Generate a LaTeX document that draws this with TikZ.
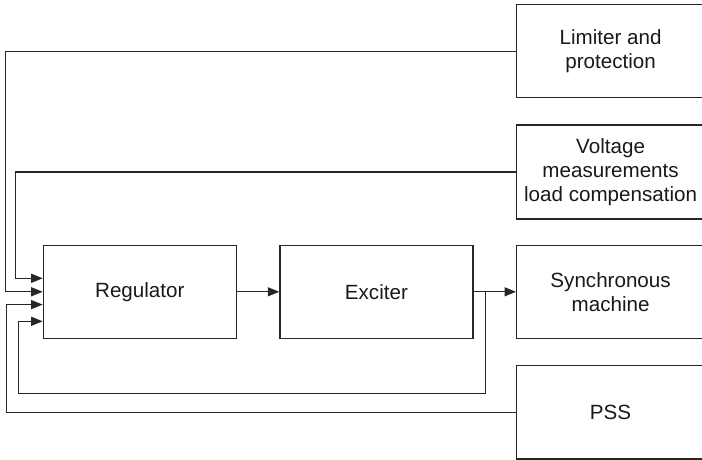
\documentclass[tikz,border=0pt]{standalone}
\usepackage{fontspec}
\setmainfont{Liberation Sans}
\usetikzlibrary{arrows.meta}
\tikzset{
  box/.style={draw=black!85, line width=1.2pt, rectangle, align=center, anchor=north west,
    inner sep=0pt, font=\fontsize{20.6}{24.2}\selectfont, text=black!90},
  arr/.style={draw=black!85, line width=1.2pt, -{Triangle[length=11.5pt,width=9pt]}},
  ln/.style={draw=black!85, line width=1.2pt}
}
\begin{document}
\begin{tikzpicture}[x=1pt,y=-1pt]
\useasboundingbox (0,0) rectangle (702,459);
\clip (0,0) rectangle (702,459);
\node[box, minimum width=193pt, minimum height=93pt] (reg) at (42.7,244.7) {Regulator};
\node[box, minimum width=193pt, minimum height=93pt] (exc) at (279.3,244.7) {Exciter};
\node[box, minimum width=188pt, minimum height=93pt] (lim) at (516,4) {Limiter and\\protection};
\node[box, minimum width=188pt, minimum height=94pt] (vol) at (516,124.3) {Voltage\\measurements\\load compensation};
\node[box, minimum width=188pt, minimum height=93pt] (syn) at (516,244.7) {Synchronous\\machine};
\node[box, minimum width=188pt, minimum height=93.3pt] (pss) at (516,365) {PSS};
\coordinate (br) at (485.7,291.2);
\coordinate (fb) at (485.7,393.3);
\draw[arr] (reg.east) -- (exc.west);
\draw[arr] (exc.east) -- (syn.west);
\draw[arr] (lim.west) -| ([xshift=-37.2pt]reg.west) -- (reg.west);
\draw[arr] (vol.west) -| ([xshift=-27.4pt,yshift=13.5pt]reg.west) -- ([yshift=13.5pt]reg.west);
\draw[arr] (pss.west) -| ([xshift=-36.2pt,yshift=-12.8pt]reg.west) -- ([yshift=-12.8pt]reg.west);
\draw[arr] (br) -- (fb) -| ([xshift=-24.4pt,yshift=-29.5pt]reg.west) -- ([yshift=-29.5pt]reg.west);
\end{tikzpicture}
\end{document}
